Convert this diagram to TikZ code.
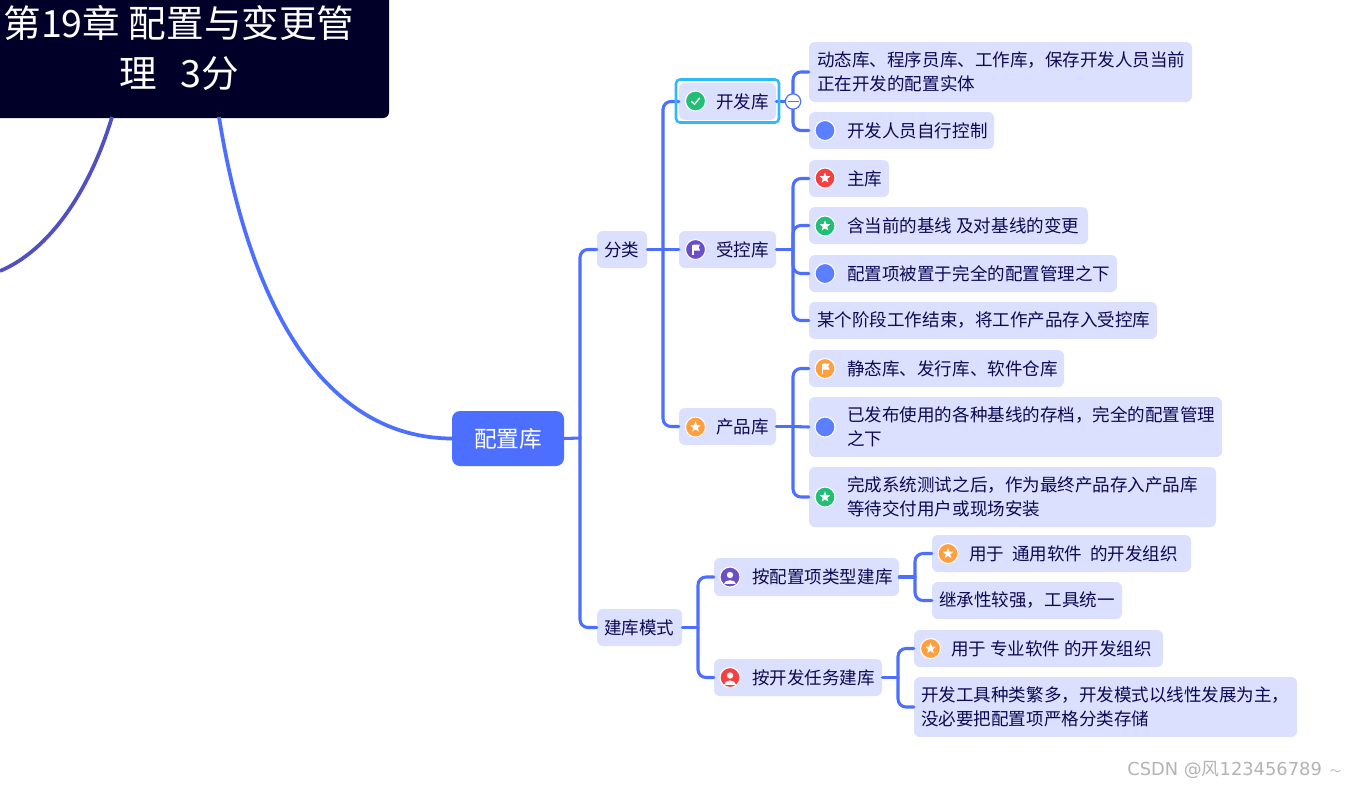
\documentclass[tikz,border=0pt]{standalone}
\usepackage{fontspec}
\setmainfont{Noto Sans CJK SC}
\newfontfamily\wmfont{DejaVu Sans}
\definecolor{boxc}{HTML}{DAE0FD}
\definecolor{linkc}{HTML}{4D6FFF}
\definecolor{inkc}{HTML}{0A0A55}
\definecolor{titlec}{HTML}{000028}
\definecolor{curvec}{HTML}{5050C4}
\definecolor{gr}{HTML}{20BF75}
\definecolor{rd}{HTML}{F44040}
\definecolor{og}{HTML}{FF9F40}
\definecolor{pu}{HTML}{6A4FC8}
\definecolor{bl}{HTML}{5B7FFF}
\definecolor{wmc}{HTML}{B4B4B4}
\tikzset{
  boxn/.style={fill=boxc,rounded corners=6*0.75pt,inner sep=0pt,draw=none},
  txt/.style={anchor=west,inner sep=0pt,text=inkc,align=left,font=\fontsize{13.15}{18}\selectfont},
  link/.style={draw=linkc,line width=2.3pt,rounded corners=6pt,line cap=round},
  ball/.style={circle,fill=#1,draw=white,line width=0.8pt,minimum size=15pt,inner sep=0pt}
}
\newcommand{\bx}[5]{\node[boxn,minimum width={(#4-#2)*0.75pt},minimum height={(#5-#3)*0.75pt}] (#1) at ({(#2+#4)/2},{(#3+#5)/2}) {};}
\newcommand{\tx}[4]{\node[txt] (#1) at (#2,#3) {#4};}
\newcommand{\gstar}{\fill[white] (-90:5.6)--(-54:2.4)--(-18:5.6)--(18:2.4)--(54:5.6)--(90:2.4)--(126:5.6)--(162:2.4)--(198:5.6)--(234:2.4)--cycle;}
\newcommand{\gcheck}{\draw[white,line width=1pt,line cap=round,line join=round] (-4,0.5)--(-1,3.2)--(4,-2.8);}
\newcommand{\gflag}{\fill[white] (-3.5,-5) rectangle (-2,5.5); \fill[white] (-2,-5)--(4.5,-5)--(3.2,-2)--(4.5,1)--(-2,1)--cycle;}
\newcommand{\gperson}{\fill[white] (0,-2) circle (3.2); \fill[white] (-6,7) .. controls (-6,1.5) and (6,1.5) .. (6,7) -- cycle;}
\newcommand{\gnone}{}
\newcommand{\ico}[5]{\node[ball=#4] (#1) at (#2,#3) {}; \begin{scope}[shift={(#1.center)}]#5\end{scope}}
\begin{document}
\begin{tikzpicture}[x=0.75pt,y=-0.75pt]
\useasboundingbox (0,0) rectangle (1358,789);
\clip (0,0) rectangle (1358,789);
\fill[white] (0,0) rectangle (1358,789);

% boxes
\bx{fl}{597}{231}{647}{268}
\bx{kfk}{679}{83}{776}{120}
\bx{skk}{679}{231}{776}{268}
\bx{cpk}{679}{408}{776}{445}
\bx{dt}{809}{42}{1192}{102}
\bx{kfry}{809}{112}{994}{149}
\bx{zk}{809}{160}{889}{197}
\bx{hdq}{809}{207}{1088}{244}
\bx{pzx}{809}{255}{1117}{292}
\bx{mgj}{809}{302}{1157}{339}
\bx{jtk}{809}{350}{1064}{387}
\bx{yfb}{809}{397}{1222}{457}
\bx{wc}{809}{467}{1216}{527}
\bx{jkms}{597}{609}{682}{646}
\bx{apz}{714}{558}{899}{596}
\bx{akf}{714}{659}{882}{696}
\bx{tyrj}{932}{535}{1191}{572}
\bx{jc}{932}{582}{1122}{619}
\bx{zyrj}{914}{630}{1163}{667}
\bx{kfgj}{914}{677}{1297}{737}
\node[fill=linkc,rounded corners=6pt,inner sep=0pt,minimum width={112*0.75pt},minimum height={55*0.75pt}] (root) at (508,438.5) {};
\node[fill=titlec,rounded corners=4.5pt,inner sep=0pt,minimum width={429*0.75pt},minimum height={158*0.75pt}] (title) at (174.5,39) {};

% junctions and free ends
\coordinate (j0) at (580,438);
\coordinate (j1) at (663,249.5);
\coordinate (j2) at (793,101.5);
\coordinate (j3) at (793,249.5);
\coordinate (j4) at (793,426.5);
\coordinate (j5) at (698,627.5);
\coordinate (j6) at (915,577);
\coordinate (j7) at (898,677.5);
\coordinate (off) at (0,271);
\coordinate (t1) at (219,117);
\coordinate (t2) at (112,117);
\coordinate (r1) at (452,438.5);

% main curves
\draw[linkc,line width=2.8pt] (r1) .. controls (326,438) and (250,310) .. (t1);
\draw[curvec,line width=2.8pt] (off) .. controls (50,250) and (90,190) .. (t2);

% links
\draw[link] (root.east) -- (j0);
\draw[link] (j0) |- (fl.west);
\draw[link] (j0) |- (jkms.west);
\draw[link] (fl.east) -- (j1);
\draw[link] (j1) |- (kfk.west);
\draw[link] (j1) -- (skk.west);
\draw[link] (j1) |- (cpk.west);
\draw[link] (kfk.east) -- (j2);
\draw[link] (j2) |- (dt.west);
\draw[link] (j2) |- (kfry.west);
\draw[link] (skk.east) -- (j3);
\draw[link] (j3) |- (zk.west);
\draw[link] (j3) |- (hdq.west);
\draw[link] (j3) |- (pzx.west);
\draw[link] (j3) |- (mgj.west);
\draw[link] (cpk.east) -- (j4);
\draw[link] (j4) |- (jtk.west);
\draw[link] (j4) -- (yfb.west);
\draw[link] (j4) |- (wc.west);
\draw[link] (jkms.east) -- (j5);
\draw[link] (j5) |- (apz.west);
\draw[link] (j5) |- (akf.west);
\draw[link] (apz.east) -- (j6);
\draw[link] (j6) |- (tyrj.west);
\draw[link] (j6) |- (jc.west);
\draw[link] (akf.east) -- (j7);
\draw[link] (j7) |- (zyrj.west);
\draw[link] (j7) |- (kfgj.west);

% selection and fold marker
\node[draw={rgb,255:red,45;green,185;blue,250},line width=1.9pt,rounded corners=3pt,inner sep=0pt,minimum width={103*0.75pt},minimum height={43*0.75pt}] (sel) at (727.5,101) {};
\node[circle,fill=white,draw=linkc,line width=0.9pt,minimum size=11.5pt,inner sep=0pt] (fold) at (793,101.5) {};
\draw[linkc,line width=0.8pt] (787.5,101.5) -- (798.5,101.5);

% icons
\ico{i1}{695.5}{101}{gr}{\gcheck}
\ico{i2}{695.5}{249.5}{pu}{\gflag}
\ico{i3}{695.5}{427}{og}{\gstar}
\ico{i4}{825}{130.5}{bl}{\gnone}
\ico{i5}{825}{178}{rd}{\gstar}
\ico{i6}{825}{226}{gr}{\gstar}
\ico{i7}{825}{273.5}{bl}{\gnone}
\ico{i8}{825}{368.5}{og}{\gflag}
\ico{i9}{825}{427}{bl}{\gnone}
\ico{i10}{825}{497}{gr}{\gstar}
\ico{i11}{730}{577}{pu}{\gperson}
\ico{i12}{730}{677.5}{rd}{\gperson}
\ico{i13}{948}{553.5}{og}{\gstar}
\ico{i14}{930.5}{648.5}{og}{\gstar}

% texts
\tx{t-fl}{604}{249.5}{分类}
\tx{t-kfk}{716}{101.5}{开发库}
\tx{t-skk}{716}{249.5}{受控库}
\tx{t-cpk}{716}{426.5}{产品库}
\tx{t-dt}{817}{72}{动态库、程序员库、工作库，保存开发人员当前\\正在开发的配置实体}
\tx{t-kfry}{847}{130.5}{开发人员自行控制}
\tx{t-zk}{847}{178.5}{主库}
\tx{t-hdq}{847}{225.5}{含当前的基线 及对基线的变更}
\tx{t-pzx}{847}{273.5}{配置项被置于完全的配置管理之下}
\tx{t-mgj}{817}{320.5}{某个阶段工作结束，将工作产品存入受控库}
\tx{t-jtk}{847}{368.5}{静态库、发行库、软件仓库}
\tx{t-yfb}{847}{427}{已发布使用的各种基线的存档，完全的配置管理\\之下}
\tx{t-wc}{847}{497}{完成系统测试之后，作为最终产品存入产品库\\等待交付用户或现场安装}
\tx{t-jkms}{604}{627.5}{建库模式}
\tx{t-apz}{752}{577}{按配置项类型建库}
\tx{t-akf}{752}{677.5}{按开发任务建库}
\tx{t-tyrj}{969}{553.5}{用于\ \ 通用软件\ \ 的开发组织}
\tx{t-jc}{939}{600.5}{继承性较强，工具统一}
\tx{t-zyrj}{951}{648.5}{用于 专业软件 的开发组织}
\tx{t-kfgj}{921}{707}{开发工具种类繁多，开发模式以线性发展为主，\\没必要把配置项严格分类存储}
\node[inner sep=0pt,text=white,font=\fontsize{17}{20}\selectfont] (t-root) at (508,438.5) {配置库};
\node[inner sep=0pt,text=white,align=center,font=\fontsize{28.2}{37.5}\selectfont] (t-title) at (179,48.5) {第19章 配置与变更管\\理\ \ \hspace{5pt}3分};
\node[anchor=west,inner sep=0pt,text=wmc,font=\wmfont\fontsize{13.4}{16}\selectfont] (wm) at (1127,770) {CSDN @{\rmfamily 风}123456789\hspace{6pt}{\rmfamily\fontsize{8.5}{8.5}\selectfont ～}};
\end{tikzpicture}
\end{document}
